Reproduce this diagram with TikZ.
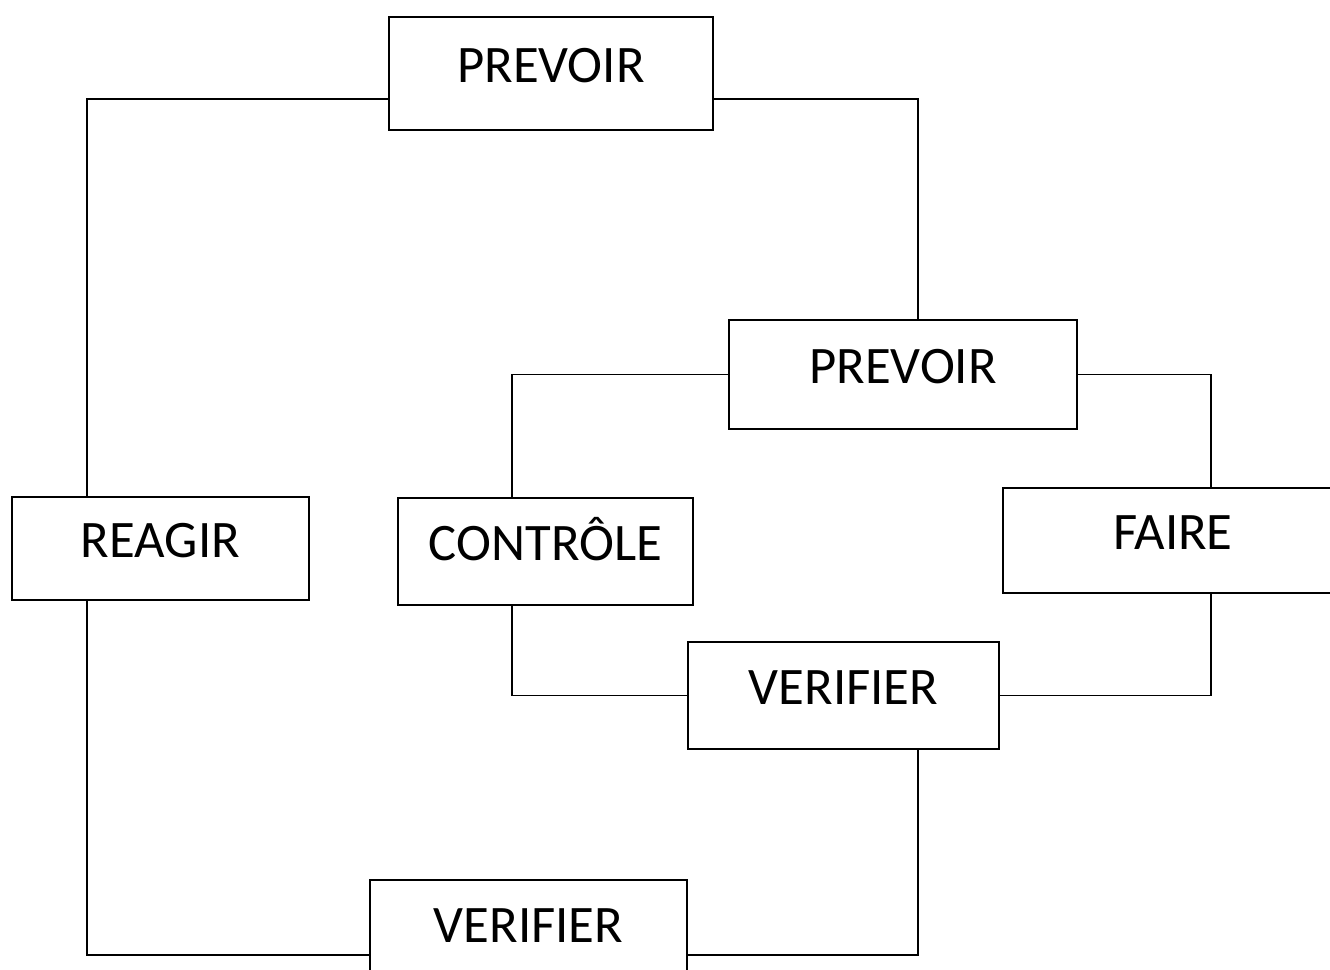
\documentclass[tikz,border=0pt]{standalone}
\usepackage{fontspec}
\setmainfont{Carlito}
\usepackage{tikz}
\usetikzlibrary{positioning, calc}

\tikzset{
  etape/.style={
    draw=black,
    line width=1.1pt,
    fill=white,
    font=\fontsize{30}{36}\selectfont,
    text height=0.68cm,
    text depth=0.32cm,
    inner sep=0pt
  },
  lien/.style={draw=black, line width=1.1pt}
}

\begin{document}
\begin{tikzpicture}[x=0.02cm, y=-0.02cm]
\useasboundingbox (0,0) rectangle (1330,970);

\node[etape, minimum width=6.48cm, minimum height=2.26cm] (prevoirA) at (551,73.5) {PREVOIR};
\node[etape, minimum width=6.96cm, minimum height=2.18cm] (prevoirB) at (903,374.5) {PREVOIR};
\node[etape, minimum width=5.94cm, minimum height=2.06cm] (reagir) at (160.5,548.5) {REAGIR};
\node[etape, minimum width=5.90cm, minimum height=2.14cm] (controle) at (545.5,551.5) {CONTRÔLE};
\node[etape, minimum width=6.80cm, minimum height=2.10cm] (faire) at (1173,540.5) {FAIRE};
\node[etape, minimum width=6.22cm, minimum height=2.14cm] (verifierA) at (843.5,695.5) {VERIFIER};
\node[etape, minimum width=6.34cm, minimum height=2.14cm] (verifierB) at (528.5,933.5) {VERIFIER};

\draw[lien] ([yshift=-0.51cm]prevoirA.west) -| ([xshift=-1.47cm]reagir.north);
\draw[lien] ([yshift=-0.51cm]prevoirA.east) -| ([xshift=0.3cm]prevoirB.north);
\draw[lien] (prevoirB.west) -| ([xshift=-0.67cm]controle.north);
\draw[lien] (prevoirB.east) -| ([xshift=0.76cm]faire.north);
\draw[lien] ([xshift=0.76cm]faire.south) |- (verifierA.east);
\draw[lien] ([xshift=-0.67cm]controle.south) |- (verifierA.west);
\draw[lien] ([xshift=1.49cm]verifierA.south) |- ([yshift=-0.43cm]verifierB.east);
\draw[lien] ([xshift=-1.47cm]reagir.south) |- ([yshift=-0.43cm]verifierB.west);
\end{tikzpicture}
\end{document}
